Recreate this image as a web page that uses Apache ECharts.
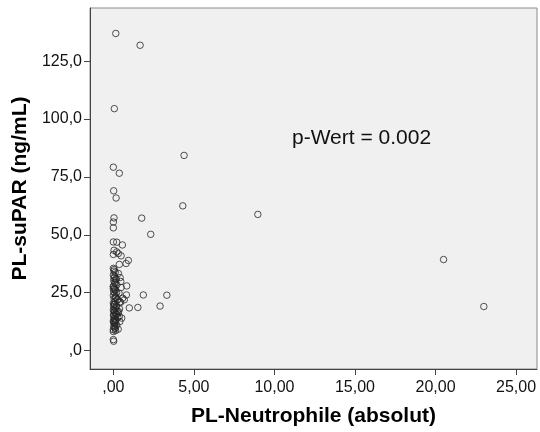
<!DOCTYPE html>
<html><head><meta charset="utf-8">
<script src="https://cdn.jsdelivr.net/npm/echarts@6/dist/echarts.min.js"></script>
<style>html,body{margin:0;padding:0;background:#fff}#c{width:540px;height:432px}</style>
</head><body><div id="c"></div>
<script>
var xTicks = [0, 5, 10, 15, 20, 25];
var yTicks = [0, 25, 50, 75, 100, 125];
var neutrophile = [0.15,1.66,0.06,4.39,0.00,0.37,0.02,0.17,4.31,8.97,20.5,23.0,
  1.76,2.32,1.86,3.32,2.90,1.52,0.99,
  0.04,0.00,0.00,0.00,0.21,0.56,0.04,0.21,0.00,0.31,0.48,0.93,0.79,0.37,0.00,0.04,0.31,0.42,0.04,0.10,0.46,0.83,0.48,0.00,0.81,0.58,0.68,0.40,0.37,0.40,0.10,0.00,0.00,0.02,
  0.05,0.12,0.00,0.08,0.18,0.03,0.10,0.22,0.00,0.06,0.14,0.02,0.20,0.09,0.00,0.16,0.05,0.25,0.11,0.00,0.07,0.19,0.03,0.13,0.00,0.23,0.08,0.15,0.01,0.10,0.28,0.04,0.17,0.00,0.12,0.06,0.21,0.02,0.09,0.30,0.14,0.00,0.05,0.18,0.11,0.26,0.03,0.08,0.33,0.16,0.01,0.35,0.45,0.28,0.52,0.38,
  0.02,0.10,0.06,0.14,0.00,0.08,0.18,0.04,0.12,0.03];
var suPAR = [137.0,131.9,104.5,84.3,79.2,76.6,69.0,65.9,62.5,58.8,39.3,19.0,
  57.2,50.2,24.0,23.9,19.2,18.6,18.4,
  57.3,55.5,53.0,46.9,46.8,45.6,43.3,42.6,41.5,41.9,40.9,38.9,37.6,37.2,35.5,34.3,33.3,31.5,31.2,29.5,29.8,27.9,27.2,26.6,24.0,22.6,21.9,21.0,14.7,12.5,10.5,9.0,4.7,4.0,
  35.0,33.8,32.6,32.0,31.0,30.2,29.0,28.4,27.8,27.0,26.1,25.4,25.0,24.5,23.7,23.0,22.4,21.8,21.2,20.5,20.0,19.4,18.8,18.1,17.6,17.0,16.5,16.0,15.4,14.9,14.3,13.8,13.2,12.7,12.1,11.6,11.0,10.4,9.8,9.2,8.6,8.2,17.3,15.6,13.0,22.0,19.7,26.4,16.8,30.6,12.3,24.8,20.8,16.2,14.0,
  18.0,15.0,12.0,20.0,23.3,27.5,13.5,19.0,16.7,9.5];

var data = neutrophile.map(function (v, i) { return [v, suPAR[i]]; });
var font = '"Liberation Sans", Arial, sans-serif';
function fmtX(v) { var s = v.toFixed(2).replace('.', ','); return s.charAt(0) === '0' ? s.slice(1) : s; }
function fmtY(v) { var s = v.toFixed(1).replace('.', ','); return s.charAt(0) === '0' ? s.slice(1) : s; }

var chart = echarts.init(document.getElementById('c'), null, {renderer: 'canvas'});
chart.setOption({
  animation: false,
  backgroundColor: '#ffffff',
  grid: {left: 90, top: 8, right: 3, bottom: 61, show: true, backgroundColor: '#f0f0f0', borderColor: '#8a8a8a', borderWidth: 1},
  xAxis: {
    type: 'value', min: -1.45, max: 26.3,
    name: 'PL-Neutrophile (absolut)', nameLocation: 'middle', nameGap: 37,
    nameTextStyle: {fontFamily: font, fontSize: 21, fontWeight: 'bold', color: '#000'},
    axisLine: {show: true, onZero: false, lineStyle: {color: '#444', width: 1}},
    axisTick: {show: true, length: 6, customValues: xTicks, lineStyle: {color: '#444'}},
    axisLabel: {customValues: xTicks, formatter: fmtX, fontFamily: font, fontSize: 16, color: '#111', margin: 11},
    splitLine: {show: false}
  },
  yAxis: {
    type: 'value', min: -8, max: 148,
    name: 'PL-suPAR (ng/mL)', nameLocation: 'middle', nameGap: 56,
    nameTextStyle: {fontFamily: font, fontSize: 21, fontWeight: 'bold', color: '#000'},
    axisLine: {show: true, onZero: false, lineStyle: {color: '#444', width: 1}},
    axisTick: {show: true, length: 6, customValues: yTicks, lineStyle: {color: '#444'}},
    axisLabel: {customValues: yTicks, formatter: fmtY, fontFamily: font, fontSize: 16, color: '#111', margin: 8},
    splitLine: {show: false}
  },
  graphic: [{
    type: 'text', left: 292, top: 128,
    style: {text: 'p-Wert = 0.002', font: '21px ' + font, fill: '#111'}
  }],
  series: [{
    type: 'scatter', data: data, symbol: 'circle', symbolSize: 6.5,
    itemStyle: {color: 'rgba(0,0,0,0)', borderColor: '#262626', borderWidth: 1}
  }]
});
</script></body></html>
